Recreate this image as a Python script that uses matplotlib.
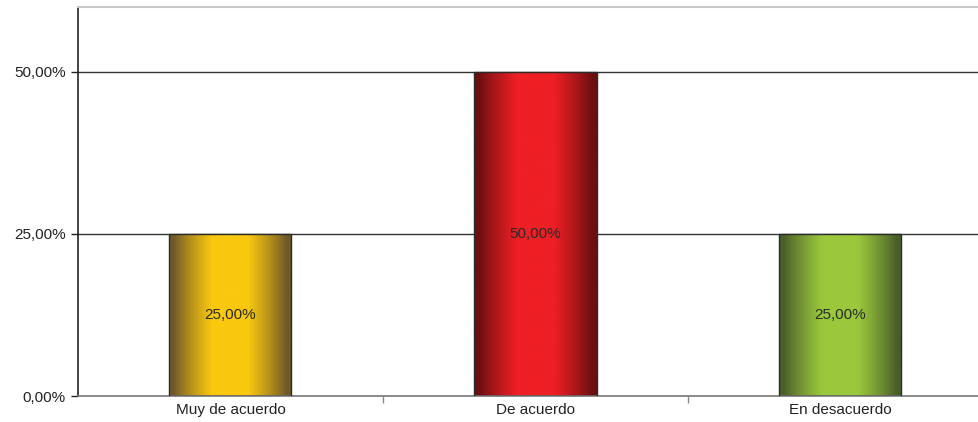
import numpy as np
import matplotlib.pyplot as plt
from matplotlib.colors import to_rgb
from matplotlib.ticker import FixedLocator, FuncFormatter

plt.rcParams['font.family'] = ['Liberation Sans', 'DejaVu Sans']

categories = ['Muy de acuerdo', 'De acuerdo', 'En desacuerdo']
values = [25.0, 50.0, 25.0]
label_texts = ['25,00%', '50,00%', '25,00%']
center_colors = ['#FAC80F', '#EE1F25', '#9AC83C']
edge_colors = ['#6E5A28', '#6B0F10', '#4A5E2A']
y_ticks = [0, 25, 50]

fig = plt.figure(figsize=(9.79, 4.22), dpi=100)
ax = fig.add_axes([78 / 979, 1 - 396 / 422, 915 / 979, (396 - 7) / 422])

ax.set_xlim(-0.5, 2.5)
ax.set_ylim(0, 60)

for y in y_ticks[1:]:
    ax.axhline(y, color='#333333', lw=1.0, zorder=1)

bar_width = 0.4
xs = np.arange(len(categories))
bars = ax.bar(xs, values, width=bar_width, facecolor='none',
              edgecolor='#2a2a2a', lw=1.0, zorder=3)

# horizontal shading: dark at the sides, bright in the middle
t = np.abs(np.linspace(-1, 1, 256))
w = np.clip((0.92 - t) / (0.92 - 0.3), 0, 1) ** 0.85
for bar, c0, c1 in zip(bars, center_colors, edge_colors):
    cc = np.array(to_rgb(c0))
    ce = np.array(to_rgb(c1))
    grad = ce[None, :] * (1 - w[:, None]) + cc[None, :] * w[:, None]
    x0, y0 = bar.get_x(), bar.get_y()
    im = ax.imshow(grad[None, :, :], extent=(x0, x0 + bar.get_width(), y0, y0 + bar.get_height()),
                   aspect='auto', zorder=2, interpolation='bilinear')
    im.set_clip_path(bar)

for x, v, txt in zip(xs, values, label_texts):
    ax.text(x, v / 2, txt, ha='center', va='center', fontsize=11,
            color='#2a2a2a', zorder=4)

ax.yaxis.set_major_locator(FixedLocator(y_ticks))
ax.yaxis.set_major_formatter(FuncFormatter(lambda v, p: f'{v:.2f}'.replace('.', ',') + '%'))
ax.tick_params(axis='y', direction='out', length=5, width=1, color='#222222',
               labelsize=11, labelcolor='#222222', pad=4)

ax.set_xticks(xs)
ax.set_xticklabels(categories)
ax.tick_params(axis='x', which='major', length=0, labelsize=11, labelcolor='#222222', pad=5)
ax.set_xticks([0.5, 1.5], minor=True)
ax.tick_params(axis='x', which='minor', direction='out', length=5, width=1, color='#888888')

ax.spines['left'].set_color('#222222')
ax.spines['left'].set_linewidth(1.2)
ax.spines['bottom'].set_color('#777777')
ax.spines['bottom'].set_linewidth(1.2)
ax.spines['top'].set_color('#c8c8c8')
ax.spines['top'].set_linewidth(1.5)
ax.spines['right'].set_visible(False)

fig.savefig('out.png', dpi=100)
